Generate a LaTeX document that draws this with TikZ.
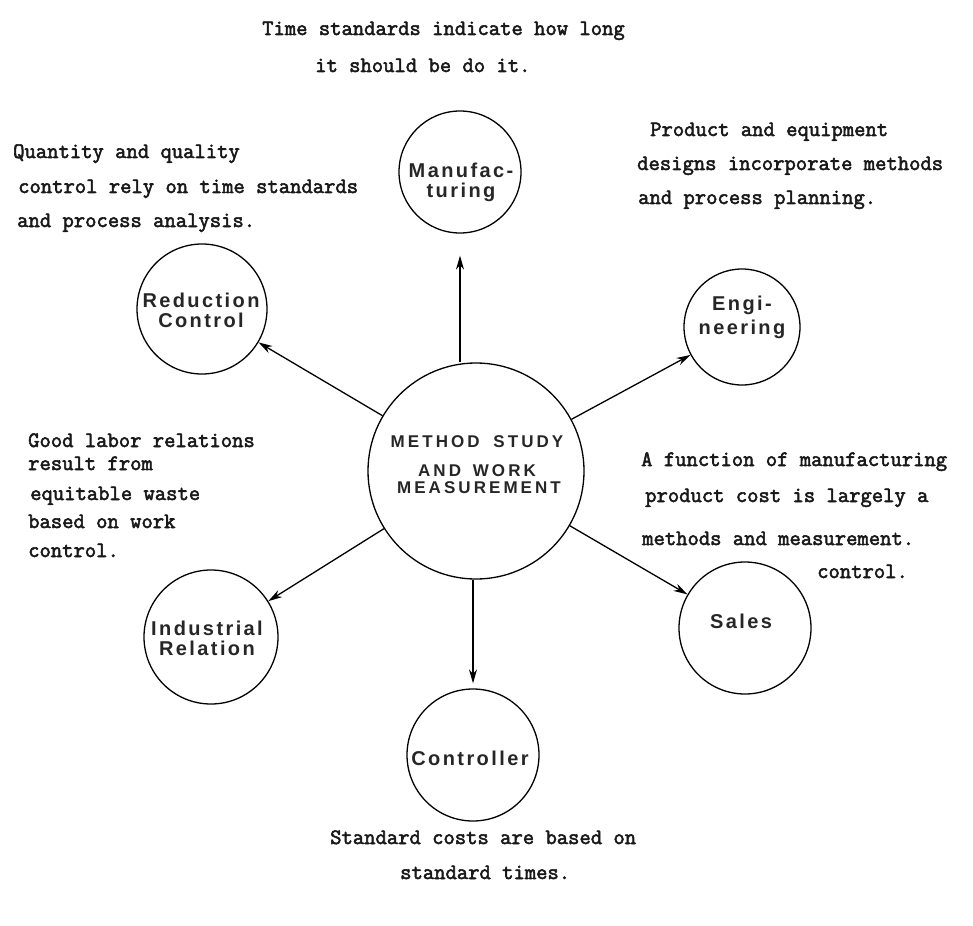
\documentclass[tikz,border=0pt]{standalone}
\usepackage{fontspec}
\usetikzlibrary{arrows.meta}
\newfontfamily\tw[FakeBold=2.5]{Latin Modern Mono}
\newfontfamily\lblfont[LetterSpace=12]{Liberation Sans}
\newfontfamily\lblcfont[LetterSpace=18]{Liberation Sans}
\tikzset{
  circ/.style={draw, circle, line width=1.3pt, inner sep=0pt},
  lbl/.style={font=\lblfont\bfseries\fontsize{20}{20}\selectfont, align=center, inner sep=0pt, text=black!85},
  lblc/.style={font=\lblcfont\bfseries\fontsize{17}{18}\selectfont, align=center, inner sep=0pt, text=black!85},
  txt/.style={font=\tw\fontsize{22}{26}\selectfont, anchor=base west, inner sep=0pt, text=black!90},
  arr/.style={line width=1.3pt, -{Stealth[length=14pt,width=8pt]}}
}
\begin{document}
\begin{tikzpicture}[x=1pt,y=-1pt]
\useasboundingbox (0,0) rectangle (973,925);
% circles
\node[circ, minimum size=216pt] (c) at (476,471) {};
\node[circ, minimum size=122pt] (m) at (460,172) {};
\node[circ, minimum size=116pt] (e) at (742,327) {};
\node[circ, minimum size=130pt] (r) at (202,309) {};
\node[circ, minimum size=134pt] (i) at (211,637) {};
\node[circ, minimum size=132pt] (s) at (745,628) {};
\node[circ, minimum size=132pt] (co) at (473,755) {};
% labels
\node[lblc] (cl1) at (477,442) {METHOD\ \hspace{6pt}STUDY};
\node[lblc] (cl2) at (477,471) {AND\ \hspace{4pt}WORK};
\node[lblc] (cl3) at (479,488) {MEASUREMENT};
\node[lbl] (ml) at (461,182) {Manufac-\\turing};
\node[lbl] (el) at (742,317) {Engi-\\[4pt]neering};
\node[lbl] (rl) at (201,310) {Reduction\\Control};
\node[lbl] (il) at (207,638) {Industrial\\Relation};
\node[lbl] (sl) at (741,621) {Sales};
\node[lbl] (col) at (470,758) {Controller};
% arrows
\draw[arr, shorten >=22pt] (c.north -| m.south) -- (m.south);
\draw[arr] (c) -- (e);
\draw[arr] (c) -- (r);
\draw[arr] (c) -- (i);
\draw[arr] (c) -- (s);
\draw[arr, shorten >=5pt] (c.south -| co.north) -- (co.north);
% texts
\node[txt] (t1) at (262,35) {Time standards indicate how long};
\node[txt] (t2) at (315,72) {it should be do it.};
\node[txt] (q1) at (13,158) {Quantity and quality};
\node[txt] (q2) at (18,193) {control rely on time standards};
\node[txt] (q3) at (17,227) {and process analysis.};
\node[txt] (p1) at (650,136) {Product and equipment};
\node[txt] (p2) at (637,170) {designs incorporate methods};
\node[txt] (p3) at (638,204) {and process planning.};
\node[txt] (g1) at (28,447) {Good labor relations};
\node[txt] (g2) at (28,470) {result from};
\node[txt] (g3) at (30,500) {equitable waste};
\node[txt] (g4) at (28,528) {based on work};
\node[txt] (g5) at (28,557) {control.};
\node[txt] (a1) at (641,466) {A function of manufacturing};
\node[txt] (a2) at (645,502) {product cost is largely a};
\node[txt] (a3) at (642,545) {methods and measurement.};
\node[txt] (a4) at (817,578) {control.};
\node[txt] (b1) at (330,844) {Standard costs are based on};
\node[txt] (b2) at (400,879) {standard times.};
\end{tikzpicture}
\end{document}
